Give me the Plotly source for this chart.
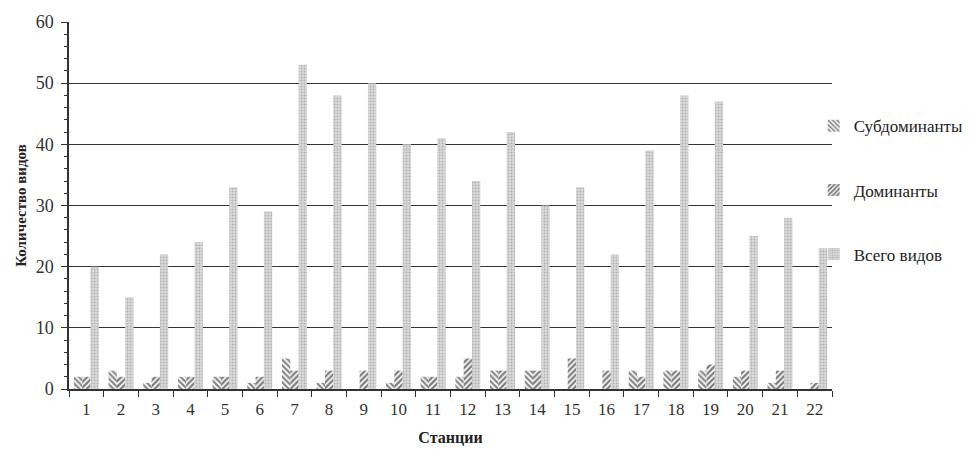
import plotly.graph_objects as go

stations = [str(i) for i in range(1, 23)]
subdominants = [2, 3, 1, 2, 2, 1, 5, 1, 0, 1, 2, 2, 3, 3, 0, 0, 3, 3, 3, 2, 1, 0]
dominants = [2, 2, 2, 2, 2, 2, 3, 3, 3, 3, 2, 5, 3, 3, 5, 3, 2, 3, 4, 3, 3, 1]
total_species = [20, 15, 22, 24, 33, 29, 53, 48, 50, 40, 41, 34, 42, 30, 33, 22, 39, 48, 47, 25, 28, 23]

font = "Liberation Serif, Times New Roman, serif"

fig = go.Figure()
fig.add_trace(go.Bar(
    x=stations, y=subdominants, name="Субдоминанты", legendgroup="a",
    textposition="none", hoverinfo="skip",
    marker=dict(color="white", line=dict(width=0),
                pattern=dict(shape="\\", fgcolor="#111111", bgcolor="white", size=4, solidity=0.55)),
))
fig.add_trace(go.Bar(
    x=stations, y=dominants, name="Доминанты", legendgroup="b",
    textposition="none", hoverinfo="skip",
    marker=dict(color="white", line=dict(width=0),
                pattern=dict(shape="/", fgcolor="#000000", bgcolor="white", size=4, solidity=0.6)),
))
fig.add_trace(go.Bar(
    x=stations, y=total_species, name="Всего видов", legendgroup="c",
    textposition="none", hoverinfo="skip",
    marker=dict(color="#d0d0d0", line=dict(width=0),
                pattern=dict(shape=".", fgcolor="#8a8a8a", bgcolor="#dadada", size=3, solidity=0.35)),
))

fig.update_layout(
    width=975, height=455,
    margin=dict(l=61, r=151, t=14, b=74, autoexpand=False),
    paper_bgcolor="white", plot_bgcolor="white",
    barmode="group", bargap=0.28, bargroupgap=0.0,
    font=dict(family=font, size=16, color="#333333"),
    legend=dict(x=0.976, xanchor="left", y=0.765, yanchor="top",
                font=dict(family=font, size=17, color="#222222"),
                tracegroupgap=39, itemwidth=30, bgcolor="rgba(0,0,0,0)"),
    showlegend=True,
)
fig.update_xaxes(
    type="category", tickson="boundaries", ticks="outside", ticklen=6,
    tickcolor="#333333", showline=True, linecolor="#333333", linewidth=1.5,
    showgrid=False, automargin=False, ticklabelstandoff=4,
    tickfont=dict(family=font, size=17, color="#333333"),
    title=dict(text="<b>Станции</b>", font=dict(family=font, size=16, color="#222222"), standoff=14),
)
fig.update_yaxes(
    range=[0, 60], dtick=10, ticks="outside", ticklen=6, tickcolor="#333333",
    showline=True, linecolor="#333333", linewidth=1.5, automargin=False,
    showgrid=True, gridcolor="#333333", gridwidth=1, zeroline=False,
    ticklabelstandoff=4,
    minor=dict(dtick=2, ticks="outside", ticklen=3, tickcolor="#333333", showgrid=False),
    tickfont=dict(family=font, size=18, color="#333333"),
    title=dict(text="<b>Количество видов</b>", font=dict(family=font, size=15, color="#222222"), standoff=5),
)

fig.write_html("out.html")
